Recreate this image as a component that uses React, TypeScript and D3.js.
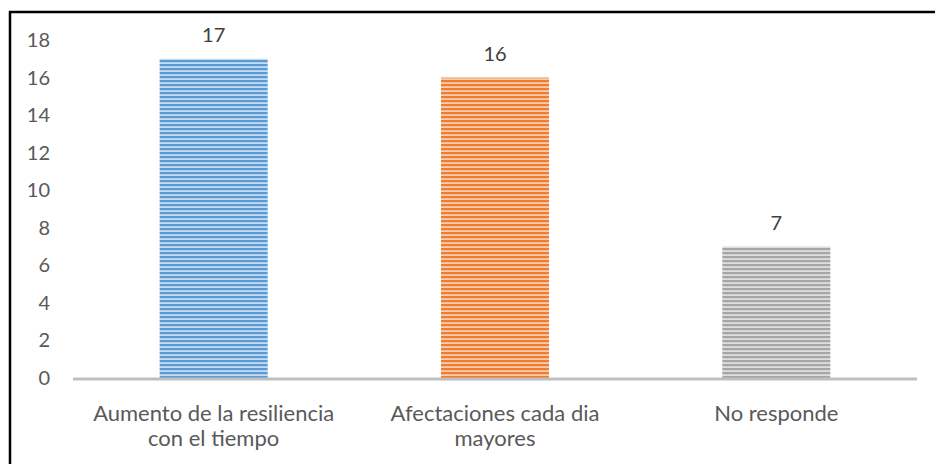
import * as d3 from 'd3';
import { useEffect, useRef } from 'react';

const categories = [
    ['Aumento de la resiliencia', 'con el tiempo'],
    ['Afectaciones cada dia', 'mayores'],
    ['No responde'],
];
const values = [17, 16, 7];
const colors = ['#5b9bd5', '#ed7d31', '#a5a5a5'];
const lightColors = ['#c6dcf1', '#f8cbad', '#dedede'];
const yTicks = [0, 2, 4, 6, 8, 10, 12, 14, 16, 18];

export default function App() {
    const ref = useRef<SVGSVGElement | null>(null);

    useEffect(() => {
        const svg = d3.select(ref.current);
        svg.selectAll('*').remove();

        const width = 935;
        const height = 464;
        const margin = { top: 40, right: 18, bottom: 86, left: 73 };
        const font = 'Lato, "Open Sans", sans-serif';

        svg.attr('width', width).attr('height', height)
            .style('position', 'absolute').style('left', 0).style('top', 0);

        const defs = svg.append('defs');
        colors.forEach((c, i) => {
            const p = defs.append('pattern')
                .attr('id', `stripe${i}`)
                .attr('patternUnits', 'userSpaceOnUse')
                .attr('width', 8).attr('height', 4);
            p.append('rect').attr('width', 8).attr('height', 4).attr('fill', lightColors[i]);
            p.append('rect').attr('width', 8).attr('height', 2.2).attr('fill', c);
        });

        svg.append('rect').attr('width', width).attr('height', height).attr('fill', '#fff');

        // frame (top and left visible)
        svg.append('path')
            .attr('d', `M10,${height + 5} V12 H${width + 5}`)
            .attr('fill', 'none').attr('stroke', '#000').attr('stroke-width', 2.5);

        const x = d3.scaleBand<number>()
            .domain(values.map((_, i) => i))
            .range([margin.left, width - margin.right])
            .paddingInner(0.616).paddingOuter(0.308);

        const y = d3.scaleLinear()
            .domain([0, 18])
            .range([height - margin.bottom, margin.top]);

        svg.append('g')
            .selectAll('text')
            .data(yTicks)
            .enter()
            .append('text')
            .attr('x', 50)
            .attr('y', d => y(d))
            .attr('dy', '0.35em')
            .attr('text-anchor', 'end')
            .attr('font-family', font)
            .attr('font-size', 20)
            .attr('fill', '#595959')
            .text(d => d);

        svg.selectAll('.bar')
            .data(values)
            .enter()
            .append('rect')
            .attr('x', (_, i) => x(i)!)
            .attr('y', d => y(d))
            .attr('width', x.bandwidth())
            .attr('height', d => y(0) - y(d))
            .attr('fill', (_, i) => `url(#stripe${i})`);

        svg.append('line')
            .attr('x1', margin.left).attr('x2', width - margin.right)
            .attr('y1', y(0) + 1).attr('y2', y(0) + 1)
            .attr('stroke', '#bfbfbf').attr('stroke-width', 3);

        svg.selectAll('.val')
            .data(values)
            .enter()
            .append('text')
            .attr('x', (_, i) => x(i)! + x.bandwidth() / 2)
            .attr('y', d => y(d) - 17)
            .attr('text-anchor', 'middle')
            .attr('font-family', font)
            .attr('font-size', 20)
            .attr('fill', '#404040')
            .text(d => d);

        categories.forEach((lines, i) => {
            const t = svg.append('text')
                .attr('x', x(i)! + x.bandwidth() / 2)
                .attr('y', 421)
                .attr('text-anchor', 'middle')
                .attr('font-family', font)
                .attr('font-size', 22)
                .attr('fill', '#595959');
            lines.forEach((l, j) => {
                t.append('tspan')
                    .attr('x', x(i)! + x.bandwidth() / 2)
                    .attr('dy', j === 0 ? 0 : 25)
                    .text(l);
            });
        });
    }, []);

    return <svg ref={ref}></svg>;
}
